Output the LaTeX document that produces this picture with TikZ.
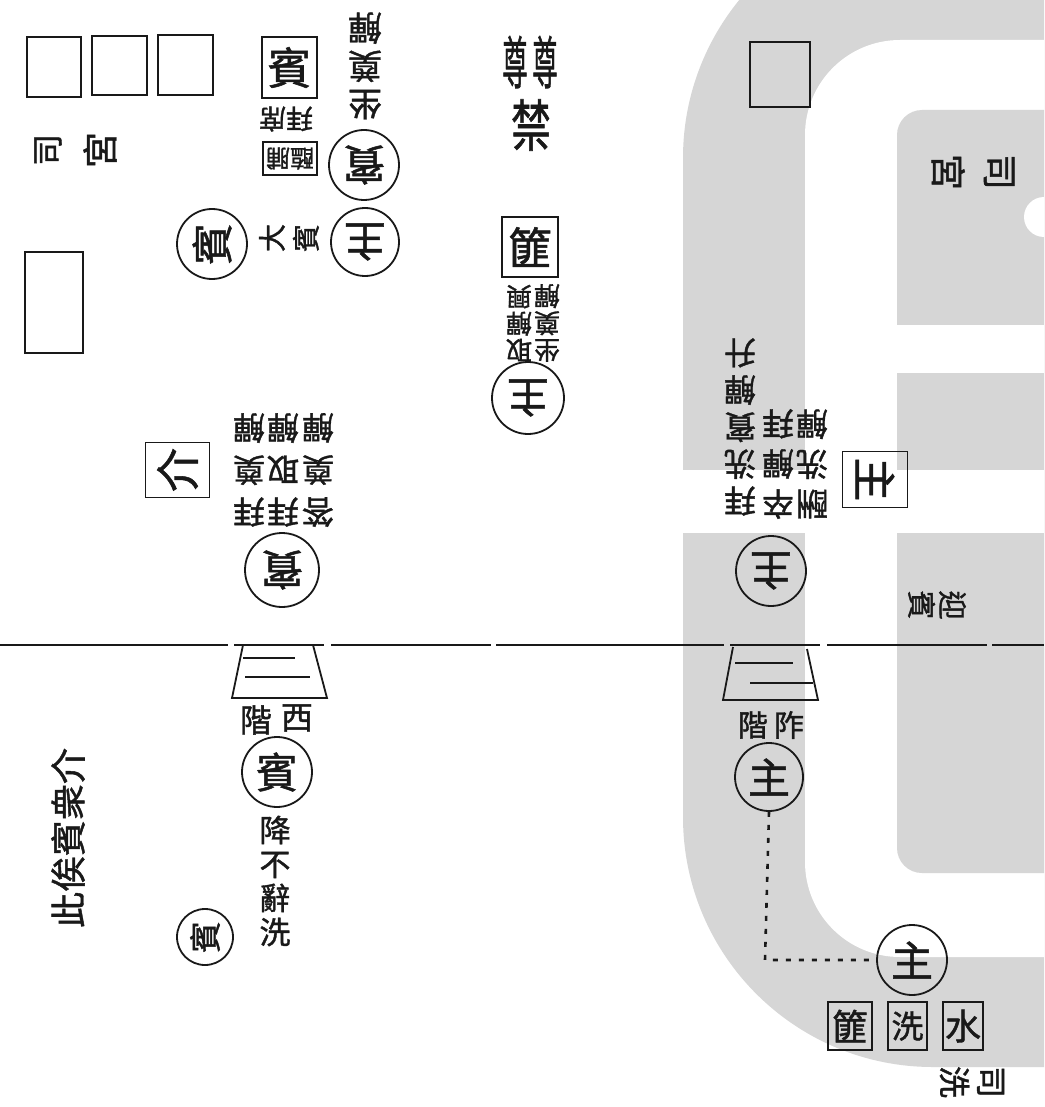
\documentclass[tikz,border=0pt]{standalone}
\usepackage{fontspec}
\newfontfamily\cjk[FakeBold=1.2]{Noto Sans CJK TC}
\definecolor{wm}{RGB}{214,214,214}
\definecolor{ink}{RGB}{25,25,25}
\begin{document}
\begin{tikzpicture}[x=1pt,y=-1pt,
  every node/.style={text=ink},
  box/.style={draw=ink, line width=1.8pt, rectangle, inner sep=0pt},
  person/.style={draw=ink, line width=1.8pt, circle, inner sep=0pt, minimum size=70pt, font=\cjk\fontsize{42}{42}\selectfont},
  smallperson/.style={person, minimum size=56pt, font=\cjk\fontsize{32}{32}\selectfont},
  lbl/.style={inner sep=0pt, align=center, font=\cjk\fontsize{32}{37}\selectfont},
  small/.style={inner sep=0pt, align=center, font=\cjk\fontsize{26}{27}\selectfont},
  ud/.style={rotate=180},
  ccw/.style={rotate=90},
  cw/.style={rotate=-90},
  edge/.style={draw=ink, line width=1.8pt},
  dots/.style={draw=ink, line width=2.6pt, dash pattern=on 5pt off 8pt}
]
\useasboundingbox (0,0) rectangle (1044,1107);
\fill[white] (0,0) rectangle (1044,1107);
% watermark
\begin{scope}
\clip (0,0) rectangle (1044,1107);
\fill[wm, rounded corners=250pt] (683,-92) rectangle (1400,1067);
\fill[white, rounded corners=95pt] (805,40) rectangle (1400,957);
\fill[wm, rounded corners=25pt] (897,110) rectangle (1400,873);
\fill[white] (897,325) rectangle (1044,373);
\fill[white] (683,470) rectangle (1044,533);
\fill[white] (1044,217) circle (20);
\end{scope}

% hall edge
\coordinate (edgeW) at (0,645);
\coordinate (edgeE) at (1044,645);
\draw[edge, dash pattern=on 228pt off 6pt on 90pt off 7pt on 160pt off 5pt] (edgeW) -- (edgeE);

% top-left mats
\node[box, minimum width=54pt, minimum height=60pt] (m1) at (54,67) {};
\node[box, minimum width=55pt, minimum height=59pt] (m2) at (119.5,65.5) {};
\node[box, minimum width=55pt, minimum height=60pt] (m3) at (185.5,65) {};
\node[box, minimum width=58pt, minimum height=101pt] (m4) at (54,302.5) {};
\node[lbl, ccw, font=\cjk\fontsize{32}{32}\selectfont] (sg1a) at (48,150) {司};
\node[lbl, ccw, font=\cjk\fontsize{36}{36}\selectfont] (sg1b) at (100,150) {宮};

% guest mat and annotations
\node[box, minimum width=55pt, minimum height=61pt, font=\cjk\fontsize{44}{44}\selectfont] (binbox) at (289.5,67.5) {賓};
\node[small, ud, font=\cjk\fontsize{27}{27}\selectfont] (note1) at (286,119) {拜席};
\node[box, ud, minimum width=54pt, minimum height=33pt, font=\cjk\fontsize{24}{24}\selectfont] (fuhai) at (290,158.5) {醢脯};
\node[lbl, ud, font=\cjk\fontsize{34}{38}\selectfont] (note2) at (365,66) {坐\\奠\\觶};
\node[person, ud] (bin1) at (364,165) {賓};
\node[person, ud, minimum size=68pt] (zhu1) at (365,242) {主};
\node[person, ccw] (bin2) at (212,244) {賓};
\node[lbl, ccw, font=\cjk\fontsize{28}{34}\selectfont] (note3) at (289,238) {大\\賓};

% zun and jin
\node[lbl] (zun1) at (515,62) {\scalebox{0.85}[1.9]{\cjk\fontsize{30}{30}\selectfont 尊}};
\node[lbl] (zun2) at (545,62) {\scalebox{0.85}[1.9]{\cjk\fontsize{30}{30}\selectfont 尊}};
\node[lbl] (jin) at (531,125) {\scalebox{1}[1.4]{\cjk\fontsize{40}{40}\selectfont 禁}};
\node[box, minimum width=56pt, minimum height=60pt, font=\cjk\fontsize{44}{44}\selectfont] (fei1) at (530,247) {篚};
\node[small, ud] (note4) at (519,323) {取\\觶\\興};
\node[small, ud] (note5) at (547,323) {坐\\奠\\觶};
\node[person, ud, minimum size=72pt] (zhu2) at (528,398) {主};

% middle-left
\node[lbl, ud, font=\cjk\fontsize{32}{42}\selectfont] (note6) at (249,470) {拜\\奠\\觶};
\node[lbl, ud, font=\cjk\fontsize{32}{42}\selectfont] (note7) at (283,470) {拜\\取\\觶};
\node[lbl, ud, font=\cjk\fontsize{32}{42}\selectfont] (note8) at (318,470) {答\\奠\\觶};
\node[box, minimum width=55pt, minimum height=64pt, ccw, font=\cjk\fontsize{44}{44}\selectfont] (jie) at (177.5,470) {介};
\node[person, ud, minimum size=74pt] (bin3) at (282,570) {賓};

% right upper
\node[box, minimum width=60pt, minimum height=65pt] (m5) at (780,74.5) {};
\node[lbl, cw, font=\cjk\fontsize{36}{52}\selectfont] (sg2) at (973,172) {司\\宮};
\node[lbl, ud, font=\cjk\fontsize{32}{37}\selectfont] (note9) at (740,427) {拜\\洗\\賓\\觶\\升};
\node[lbl, ud, font=\cjk\fontsize{32}{40}\selectfont] (note10) at (778,464) {卒\\觶\\拜};
\node[lbl, ud, font=\cjk\fontsize{32}{40}\selectfont] (note11) at (812,464) {酬\\洗\\觶};
\node[box, minimum width=56pt, minimum height=65pt, cw, font=\cjk\fontsize{44}{44}\selectfont] (zhubox) at (875,479.5) {主};
\node[lbl, cw, font=\cjk\fontsize{29}{31}\selectfont] (yingbin) at (937,605) {迎\\賓};
\node[person, ud] (zhu3) at (771,571) {主};

% steps
\coordinate (wA) at (243,645); \coordinate (wB) at (313,645);
\coordinate (wC) at (327,698); \coordinate (wD) at (232,698);
\draw[edge] (wA) -- (wD) -- (wC) -- (wB);
\draw[edge, line width=1.4pt] (243,658) -- (295,658);
\draw[edge, line width=1.4pt] (245,677) -- (310,677);
\coordinate (eA) at (733,647); \coordinate (eB) at (807,649);
\coordinate (eC) at (818,700); \coordinate (eD) at (723,700);
\draw[edge] (eA) -- (eD) -- (eC) -- (eB);
\draw[edge, line width=1.4pt] (735,663) -- (793,663);
\draw[edge, line width=1.4pt] (750,683) -- (813,683);
\node[lbl] (xi) at (297,718) {西};
\node[lbl] (jie1) at (256,720) {階};
\node[lbl, font=\cjk\fontsize{30}{30}\selectfont] (zuo) at (789,725) {阼};
\node[lbl, font=\cjk\fontsize{30}{30}\selectfont] (jie2) at (753,725) {階};

% lower part
\node[person] (bin4) at (277,772) {賓};
\node[lbl, font=\cjk\fontsize{31}{34}\selectfont] (note12) at (275,881) {降\\不\\辭\\洗};
\node[smallperson, ccw] (bin5) at (205,937) {賓};
\node[lbl, ccw, font=\cjk\fontsize{36}{36}\selectfont] (note13) at (68,838) {此俟賓衆介};

\node[person, minimum size=68pt] (zhu4) at (769,777) {主};
\node[person] (zhu5) at (912,960) {主};
\coordinate (turn) at (765,960);
\draw[dots] (zhu4.south) -- (turn) -- (zhu5.west);
\node[box, minimum width=44pt, minimum height=48pt, font=\cjk\fontsize{36}{36}\selectfont] (fei2) at (850,1026) {篚};
\node[box, minimum width=39pt, minimum height=48pt, font=\cjk\fontsize{32}{32}\selectfont] (xibox) at (907.5,1026) {洗};
\node[box, minimum width=40pt, minimum height=48pt, font=\cjk\fontsize{36}{36}\selectfont] (shui) at (963,1026) {水};
\node[lbl, cw, font=\cjk\fontsize{32}{37}\selectfont] (sixi) at (972,1082) {司\\洗};
\end{tikzpicture}
\end{document}
